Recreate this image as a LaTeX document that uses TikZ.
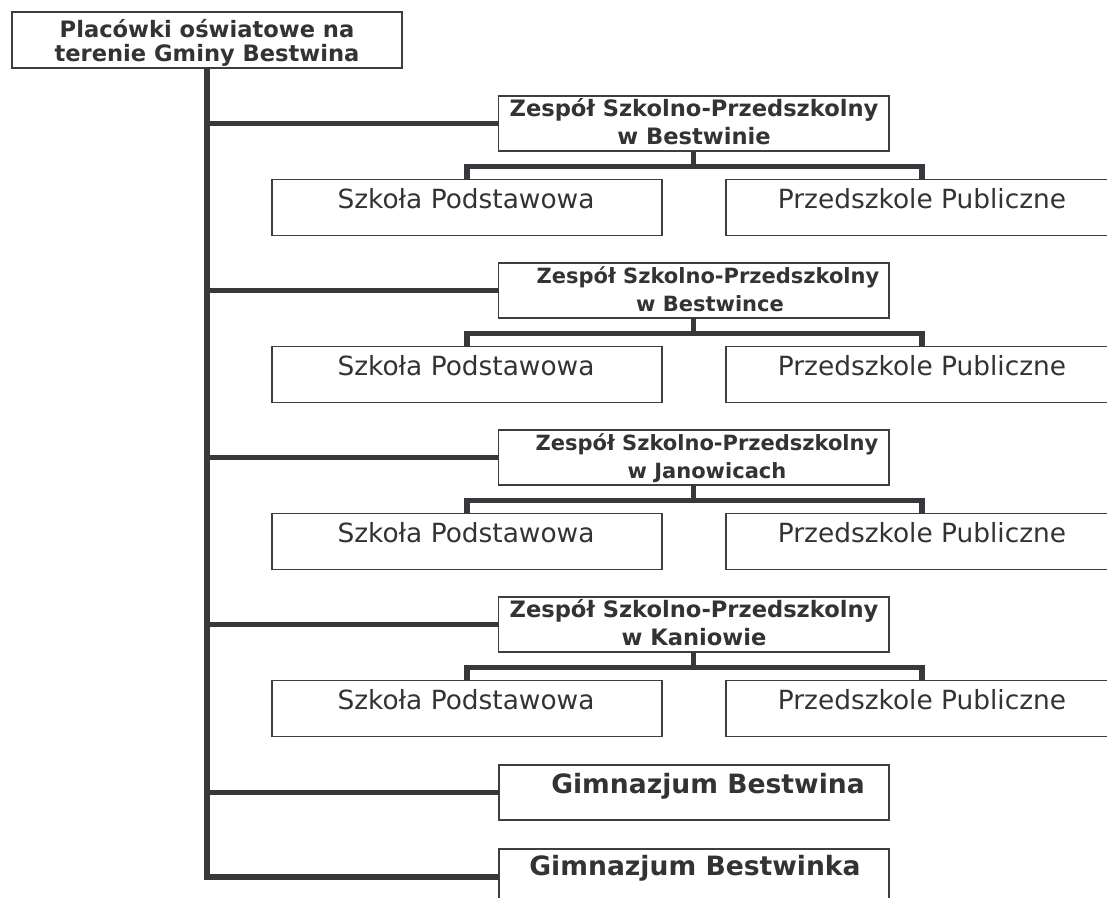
\documentclass[tikz,border=0pt]{standalone}
\usepackage{fontspec}
\setmainfont{DejaVu Sans}
\definecolor{ln}{RGB}{56,56,60}
\definecolor{bx}{RGB}{62,62,66}
\definecolor{tx}{RGB}{51,51,54}
\begin{document}
\begin{tikzpicture}[x=1pt,y=-1pt,
  box/.style={draw=bx, line width=1.5pt, fill=white, inner sep=0pt, outer sep=0pt, anchor=north west},
  trunkline/.style={draw=ln, line width=5.6pt},
  subline/.style={draw=ln, line width=5.2pt},
  hd/.style={text=tx, anchor=base, inner sep=0pt, font=\bfseries\fontsize{22.6}{24}\selectfont},
  hds/.style={text=tx, anchor=base, inner sep=0pt, font=\bfseries\fontsize{21}{23}\selectfont},
  gm/.style={text=tx, anchor=base, inner sep=0pt, font=\bfseries\fontsize{26.6}{28}\selectfont},
  lf/.style={text=tx, anchor=base, inner sep=0pt, font=\fontsize{26.4}{28}\selectfont}]
\useasboundingbox (0,0) rectangle (1107,897);
\clip (0,0) rectangle (1107,897);
\fill[white] (0,0) rectangle (1107,897);

% boxes
\node[box, minimum width=390pt, minimum height=56pt] (top) at (12,12) {};
\node[box, minimum width=390.5pt, minimum height=55pt] (zs1) at (498.5,96) {};
\node[box, minimum width=390.5pt, minimum height=55pt] (zs2) at (498.5,263) {};
\node[box, minimum width=390.5pt, minimum height=55pt] (zs3) at (498.5,430) {};
\node[box, minimum width=390.5pt, minimum height=55pt] (zs4) at (498.5,597) {};
\node[box, minimum width=390pt, minimum height=56pt] (sp1) at (272,179.5) {};
\node[box, minimum width=392pt, minimum height=56pt] (pp1) at (726,179.5) {};
\node[box, minimum width=390pt, minimum height=56pt] (sp2) at (272,346.5) {};
\node[box, minimum width=392pt, minimum height=56pt] (pp2) at (726,346.5) {};
\node[box, minimum width=390pt, minimum height=56pt] (sp3) at (272,513.5) {};
\node[box, minimum width=392pt, minimum height=56pt] (pp3) at (726,513.5) {};
\node[box, minimum width=390pt, minimum height=56pt] (sp4) at (272,680.5) {};
\node[box, minimum width=392pt, minimum height=56pt] (pp4) at (726,680.5) {};
\node[box, minimum width=390pt, minimum height=55pt] (gb1) at (499,765) {};
\node[box, minimum width=390pt, minimum height=56pt] (gb2) at (499,849) {};

% junction points
\coordinate (j1) at (693.75,166.5);
\coordinate (j2) at (693.75,333.5);
\coordinate (j3) at (693.75,500.5);
\coordinate (j4) at (693.75,667.5);

% trunk and branches
\draw[trunkline] (top.south) |- (gb2.west);
\draw[trunkline] (top.south |- zs1.west) -- (zs1.west);
\draw[trunkline] (top.south |- zs2.west) -- (zs2.west);
\draw[trunkline] (top.south |- zs3.west) -- (zs3.west);
\draw[trunkline] (top.south |- zs4.west) -- (zs4.west);
\draw[trunkline] (top.south |- gb1.west) -- (gb1.west);

% sub connectors
\draw[subline] (sp1.north) |- (j1) -| (pp1.north);
\draw[subline] (zs1.south) -- (zs1.south |- j1);
\draw[subline] (sp2.north) |- (j2) -| (pp2.north);
\draw[subline] (zs2.south) -- (zs2.south |- j2);
\draw[subline] (sp3.north) |- (j3) -| (pp3.north);
\draw[subline] (zs3.south) -- (zs3.south |- j3);
\draw[subline] (sp4.north) |- (j4) -| (pp4.north);
\draw[subline] (zs4.south) -- (zs4.south |- j4);

% texts
\node[hd] (topa) at (207,37) {Placówki oświatowe na};
\node[hd] (topb) at (207,61) {terenie Gminy Bestwina};

\node[hd] (zs1a) at (694,116) {Zespół Szkolno-Przedszkolny};
\node[hd] (zs1b) at (694,144) {w Bestwinie};
\node[hds] (zs2a) at (708,283) {Zespół Szkolno-Przedszkolny};
\node[hds] (zs2b) at (710,311) {w Bestwince};
\node[hds] (zs3a) at (707,450) {Zespół Szkolno-Przedszkolny};
\node[hds] (zs3b) at (707,478) {w Janowicach};
\node[hd] (zs4a) at (694,617) {Zespół Szkolno-Przedszkolny};
\node[hd] (zs4b) at (694,645) {w Kaniowie};

\node[lf] (sp1t) at (466,208) {Szkoła Podstawowa};
\node[lf] (pp1t) at (922,208) {Przedszkole Publiczne};
\node[lf] (sp2t) at (466,375) {Szkoła Podstawowa};
\node[lf] (pp2t) at (922,375) {Przedszkole Publiczne};
\node[lf] (sp3t) at (466,542) {Szkoła Podstawowa};
\node[lf] (pp3t) at (922,542) {Przedszkole Publiczne};
\node[lf] (sp4t) at (466,709) {Szkoła Podstawowa};
\node[lf] (pp4t) at (922,709) {Przedszkole Publiczne};

\node[gm] (gb1t) at (708,793) {Gimnazjum Bestwina};
\node[gm] (gb2t) at (695,875) {Gimnazjum Bestwinka};
\end{tikzpicture}
\end{document}
